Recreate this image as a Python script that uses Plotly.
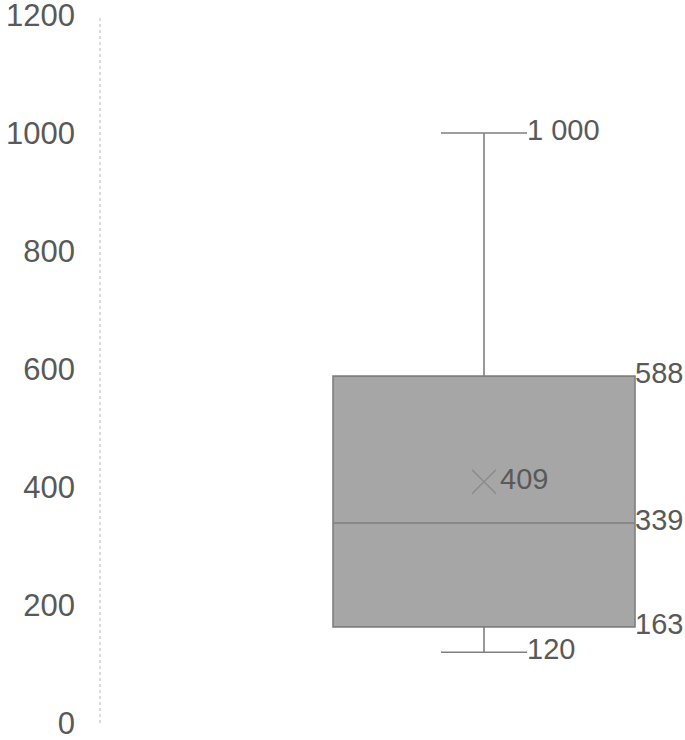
import plotly.graph_objects as go

# 箱形图统计值
x_pos = [0]
lower_fence = [120]
q1 = [163]
median = [339]
q3 = [588]
upper_fence = [1000]
mean = [409]
y_ticks = [0, 200, 400, 600, 800, 1000, 1200]

box_w = 1.0
whisker_w = 0.285
文字色 = "#595959"
线色 = "#7f7f7f"
标签字体 = dict(family="Liberation Sans Narrow, Liberation Sans", size=29, color=文字色)


def fmt(v):
    return f"{v:,}".replace(",", " ")


fig = go.Figure()

fig.add_trace(go.Box(x=x_pos, q1=q1, median=median, q3=q3,
                     lowerfence=lower_fence, upperfence=upper_fence,
                     width=box_w, whiskerwidth=whisker_w,
                     fillcolor="#a6a6a6", line=dict(color=线色, width=1.6),
                     boxpoints=False, hoverinfo="skip"))

# 均值 ×
fig.add_trace(go.Scatter(x=x_pos, y=mean, mode="markers+text",
                         marker=dict(symbol="x-thin-open", size=24, color="#8c8c8c",
                                     line=dict(color="#8c8c8c", width=1.5)),
                         text=[fmt(v) for v in mean], textposition="middle right",
                         textfont=标签字体, cliponaxis=False, hoverinfo="skip"))

# 箱体右侧标签
box_vals = q3 + median + q1
fig.add_trace(go.Scatter(x=[box_w / 2] * len(box_vals), y=box_vals, mode="text",
                         text=[fmt(v) for v in box_vals], textposition="middle right",
                         textfont=标签字体, cliponaxis=False, hoverinfo="skip"))

# 须线标签
whisk_vals = upper_fence + lower_fence
fig.add_trace(go.Scatter(x=[whisker_w / 2] * len(whisk_vals), y=whisk_vals, mode="text",
                         text=[fmt(v) for v in whisk_vals], textposition="middle right",
                         textfont=标签字体, cliponaxis=False, hoverinfo="skip"))

# 点状纵轴线
fig.add_shape(type="line", xref="paper", yref="y", x0=0, x1=0, y0=0, y1=1200,
              line=dict(color="#d0d0d0", width=1.5, dash="dot"))

x0 = -384 / 302
fig.update_xaxes(range=[x0, x0 + 585 / 302], visible=False, automargin=False)
fig.update_yaxes(range=[0, 1200], tickvals=y_ticks, showgrid=False, zeroline=False,
                 showline=False, ticks="", ticklabelstandoff=24, automargin=False,
                 ticklabeloverflow="allow",
                 tickfont=dict(family="Liberation Sans, Arial", size=31, color=文字色))
fig.update_layout(width=685, height=740, showlegend=False,
                  plot_bgcolor="white", paper_bgcolor="white",
                  margin=dict(l=100, r=0, t=15, b=17))

# 去掉页面 body 默认边距，隐藏工具栏
fig.write_html("out.html", config={"displayModeBar": False},
               post_script="document.body.style.margin='0';")
